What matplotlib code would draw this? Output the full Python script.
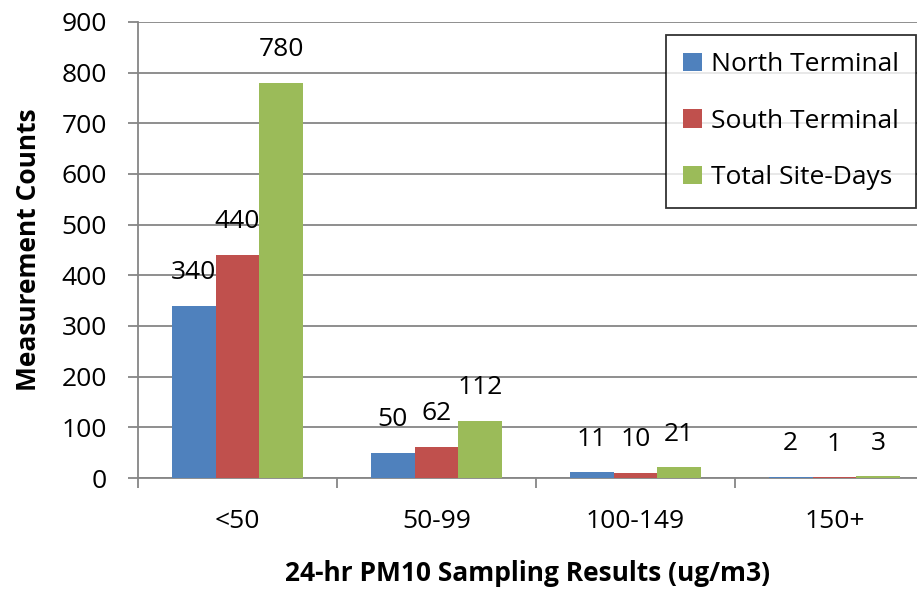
import matplotlib
matplotlib.use("Agg")
import matplotlib.pyplot as plt
import numpy as np

categories = ["<50", "50-99", "100-149", "150+"]
north = [340, 50, 11, 2]
south = [440, 62, 10, 1]
total = [780, 112, 21, 3]
series_names = ["North Terminal", "South Terminal", "Total Site-Days"]
colors = ["#4f81bd", "#c0504d", "#9bbb59"]

plt.rcParams['font.family'] = ['Open Sans', 'DejaVu Sans']
fs = 19

fig = plt.figure(figsize=(9.17, 5.91), dpi=100)
ax = fig.add_axes([0.1505, 0.1912, 0.8495, 0.7716])

x = np.arange(len(categories))
w = 0.22
for i, (vals, name, c) in enumerate(zip([north, south, total], series_names, colors)):
    pos = x + (i - 1) * w
    ax.bar(pos, vals, width=w, color=c, label=name, zorder=3)
    for p, v in zip(pos, vals):
        ax.annotate(str(v), (p, v), xytext=(0, 24), textcoords="offset points",
                    ha="center", va="center", fontsize=fs)

ax.set_ylim(0, 900)
ax.set_xlim(-0.5, 3.415)
ax.set_yticks(range(0, 901, 100))
ax.yaxis.grid(True, color="#868686", linewidth=1.3, zorder=0)
ax.set_axisbelow(True)

ax.set_xticks(x)
ax.set_xticklabels(categories, fontsize=fs)
ax.set_xticks(np.arange(-0.5, 3.5, 1), minor=True)
ax.tick_params(axis="x", which="major", length=0, pad=22)
ax.tick_params(axis="x", which="minor", length=7.5, width=1.3, color="#868686")
ax.tick_params(axis="y", length=7.5, width=1.3, color="#868686", labelsize=fs, pad=15)

for s in ["top", "right"]:
    ax.spines[s].set_visible(False)
for s in ["left", "bottom"]:
    ax.spines[s].set_color("#868686")
    ax.spines[s].set_linewidth(1.3)

ax.set_ylabel("Measurement Counts", fontsize=fs, fontweight="bold", labelpad=14)
ax.set_xlabel("24-hr PM10 Sampling Results (ug/m3)", fontsize=fs, fontweight="bold", labelpad=19)

leg = ax.legend(loc="upper right", bbox_to_anchor=(0.999, 0.9715), borderaxespad=0,
                fontsize=fs, frameon=True, fancybox=False, edgecolor="black",
                handlelength=0.7, handleheight=0.7, handletextpad=0.35,
                labelspacing=1.2, borderpad=0.65)
leg.get_frame().set_linewidth(1.3)

fig.savefig("out.png", dpi=100)
